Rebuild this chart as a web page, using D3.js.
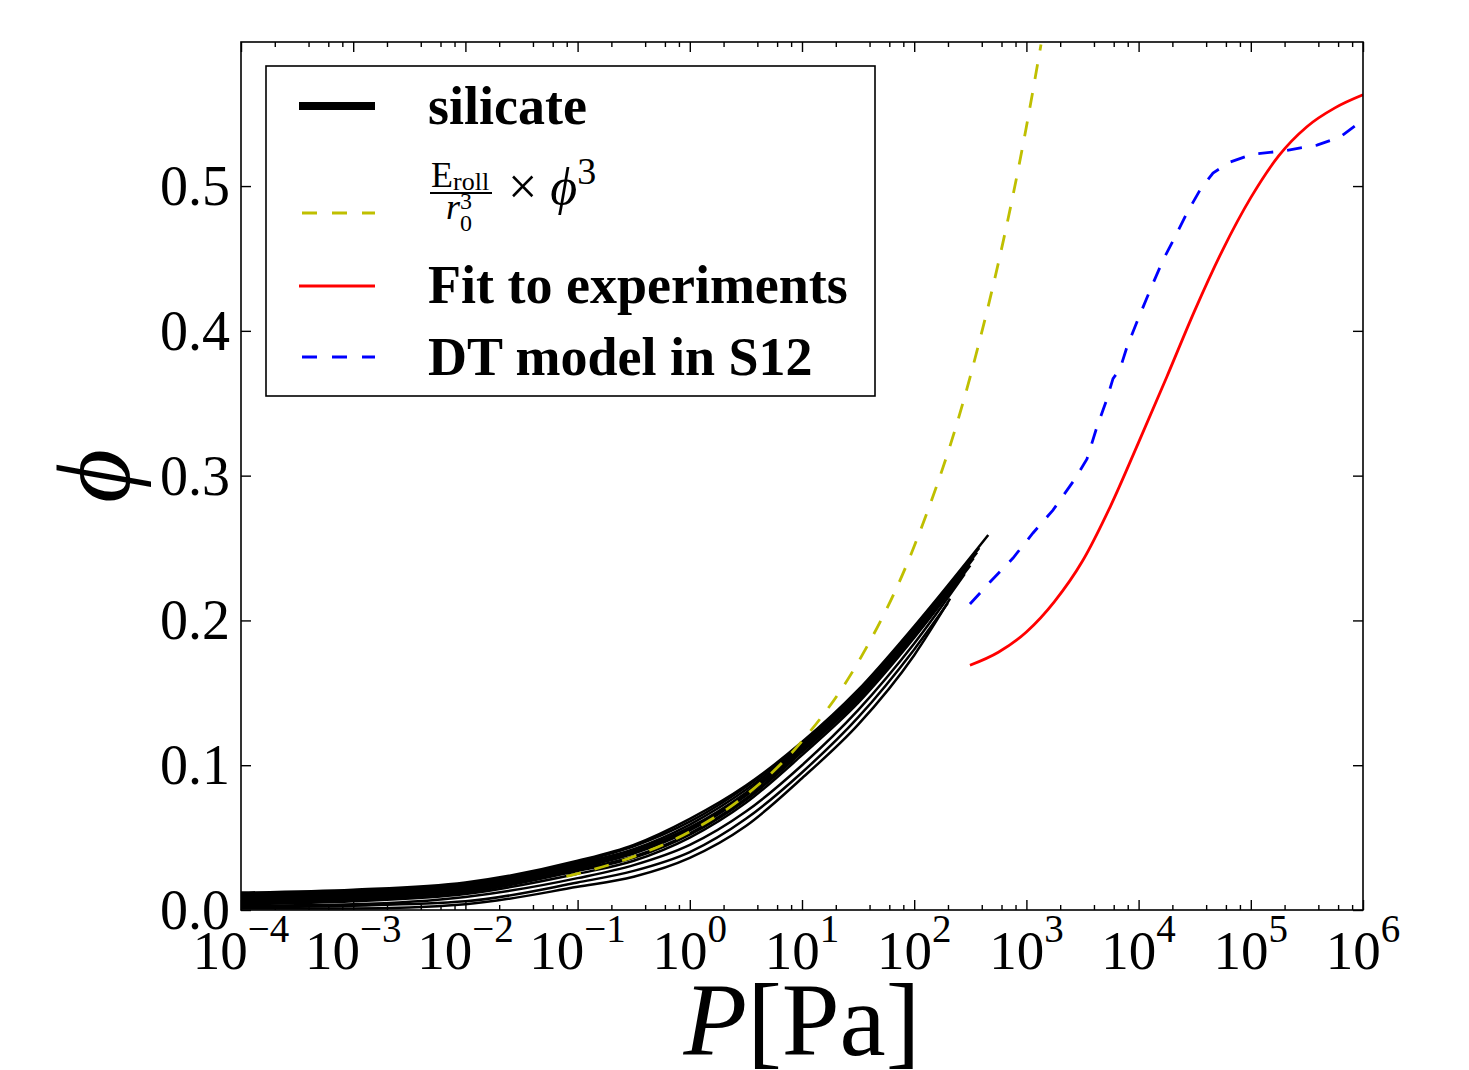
<!DOCTYPE html>
<html><head><meta charset="utf-8">
<script src="https://cdn.jsdelivr.net/npm/d3@7"></script>
<style>body{margin:0;background:#fff} svg{display:block}</style>
</head><body>
<svg id="c" width="1469" height="1070"></svg>
<script>
// ---------------- data ----------------
const xTickExps = [-4,-3,-2,-1,0,1,2,3,4,5,6];          // major ticks 10^e
const yTicks = [0.0,0.1,0.2,0.3,0.4,0.5];
const yTickLabels = ["0.0","0.1","0.2","0.3","0.4","0.5"];
const legendLabels = ["silicate","E_roll/r0^3 × φ^3","Fit to experiments","DT model in S12"];

// silicate runs: log10(P) nodes and φ for each run, plus each run's last point
const silicateLogP = [-4,-3,-2,-1,-0.5,0,0.5,1,1.5,2];
const silicatePhi = [
 [0.012,0.014,0.019,0.034,0.045,0.063,0.086,0.116,0.152,0.196],
 [0.011,0.013,0.018,0.033,0.044,0.061,0.085,0.115,0.151,0.195],
 [0.010,0.012,0.017,0.032,0.042,0.059,0.083,0.114,0.150,0.194],
 [0.009,0.011,0.016,0.031,0.041,0.057,0.081,0.113,0.149,0.193],
 [0.008,0.010,0.015,0.030,0.040,0.056,0.080,0.112,0.148,0.192],
 [0.007,0.009,0.014,0.029,0.039,0.055,0.079,0.111,0.147,0.191],
 [0.006,0.008,0.013,0.028,0.037,0.053,0.077,0.110,0.146,0.190],
 [0.005,0.007,0.012,0.027,0.036,0.052,0.076,0.109,0.145,0.189],
 [0.004,0.006,0.011,0.025,0.034,0.050,0.074,0.107,0.143,0.188],
 [0.003,0.004,0.009,0.022,0.031,0.045,0.068,0.100,0.138,0.184],
 [0.002,0.003,0.006,0.019,0.027,0.040,0.063,0.095,0.133,0.180],
 [0.001,0.001,0.004,0.016,0.023,0.036,0.058,0.091,0.128,0.176]
];
const silicateEnd = [[2.66,0.259],[2.58,0.250],[2.52,0.244],[2.56,0.247],[2.47,0.238],[2.53,0.243],
                     [2.42,0.230],[2.50,0.238],[2.38,0.226],[2.45,0.232],[2.30,0.212],[2.32,0.215]];

// E_roll / r0^3 × φ^3 curve
const rollLogP = [-1.1,-1.0,-0.5,0,0.5,1,1.5,2,2.5,3,3.13];
const rollPhi  = [0.0232,0.0251,0.0369,0.0541,0.0794,0.1166,0.1711,0.2512,0.3686,0.5410,0.5977];

// Fit to experiments
const fitLogP = [2.497,2.75,3.0,3.25,3.5,3.75,4.0,4.25,4.5,4.75,5.0,5.25,5.5,5.75,6.0];
const fitPhi  = [0.169,0.178,0.192,0.213,0.241,0.279,0.323,0.368,0.414,0.456,0.492,0.521,0.541,0.554,0.563];

// DT model in S12
const dtLogP = [2.497,2.676,2.881,3.059,3.237,3.433,3.540,3.620,3.709,3.772,3.834,3.897,3.995,4.102,4.218,4.324,4.431,4.547,4.663,4.815,5.02,5.287,5.59,5.795,6.0];
const dtPhi  = [0.2113,0.2265,0.2431,0.2604,0.2762,0.2977,0.3115,0.3315,0.351,0.367,0.3736,0.389,0.408,0.428,0.4489,0.4648,0.4814,0.4972,0.509,0.5166,0.5221,0.5242,0.5283,0.5338,0.5456];

// ---------------- drawing ----------------
const svg = d3.select('#c');
const L = 241, R = 1363, T = 42, B = 910;
const serif = "'Liberation Serif','Times New Roman',serif";
const x = d3.scaleLog().domain([1e-4,1e6]).range([L,R]);
const y = d3.scaleLinear().domain([0,0.5995]).range([B,T]);
const pw = e => Math.pow(10,e);

svg.append('rect').attr('width',1469).attr('height',1070).attr('fill','#fff');
svg.append('defs').append('clipPath').attr('id','clip')
  .append('rect').attr('x',L).attr('y',T).attr('width',R-L).attr('height',B-T);

const plot = svg.append('g').attr('clip-path','url(#clip)');
const lineS = d3.line().x(d=>x(pw(d[0]))).y(d=>y(d[1])).curve(d3.curveMonotoneX);
const lineL = d3.line().x(d=>x(pw(d[0]))).y(d=>y(d[1]));

// silicate runs
silicatePhi.forEach((run,k)=>{
  const pts = silicateLogP.map((v,i)=>[v,run[i]]).concat([silicateEnd[k]]);
  plot.append('path').datum(pts).attr('d',lineS).attr('fill','none')
    .attr('stroke','#000').attr('stroke-width',2.5);
});

// yellow
plot.append('path').datum(rollLogP.map((v,i)=>[v,rollPhi[i]]))
  .attr('d',lineS).attr('fill','none').attr('stroke','#bfbf00').attr('stroke-width',2.8)
  .attr('stroke-dasharray','15,14');

// red fit
plot.append('path').datum(fitLogP.map((v,i)=>[v,fitPhi[i]]))
  .attr('d',lineS).attr('fill','none').attr('stroke','#ff0000').attr('stroke-width',2.8);

// blue DT
plot.append('path').datum(dtLogP.map((v,i)=>[v,dtPhi[i]]))
  .attr('d',lineL).attr('fill','none').attr('stroke','#0000ff').attr('stroke-width',2.8)
  .attr('stroke-dasharray','15,14');

// ---------------- axes ----------------
const majors = xTickExps.map(pw);
const minors = [];
for (let e=-4;e<6;e++) for (const m of [2,4,6,8]) minors.push(m*pw(e));

function styleAxis(g){
  g.select('.domain').remove();
  g.selectAll('line').attr('stroke','#000').attr('stroke-width',1.4);
  g.selectAll('text').remove();
}
svg.append('g').attr('transform',`translate(0,${B})`)
  .call(d3.axisBottom(x).tickValues(majors).tickSize(-10).tickSizeOuter(0)).call(styleAxis);
svg.append('g').attr('transform',`translate(0,${B})`)
  .call(d3.axisBottom(x).tickValues(minors).tickSize(-5).tickSizeOuter(0)).call(styleAxis);
svg.append('g').attr('transform',`translate(0,${T})`)
  .call(d3.axisTop(x).tickValues(majors).tickSize(-10).tickSizeOuter(0)).call(styleAxis);
svg.append('g').attr('transform',`translate(0,${T})`)
  .call(d3.axisTop(x).tickValues(minors).tickSize(-5).tickSizeOuter(0)).call(styleAxis);
svg.append('g').attr('transform',`translate(${L},0)`)
  .call(d3.axisLeft(y).tickValues(yTicks).tickSize(-10).tickSizeOuter(0)).call(styleAxis);
svg.append('g').attr('transform',`translate(${R},0)`)
  .call(d3.axisRight(y).tickValues(yTicks).tickSize(-10).tickSizeOuter(0)).call(styleAxis);

// frame
svg.append('rect').attr('x',L).attr('y',T).attr('width',R-L).attr('height',B-T)
  .attr('fill','none').attr('stroke','#000').attr('stroke-width',1.6);

// y tick labels
yTicks.forEach((v,i)=>{
  svg.append('text').attr('x',L-11).attr('y',y(v)).attr('dy','0.34em')
    .attr('text-anchor','end').style('font-family',serif).style('font-size','56px')
    .text(yTickLabels[i]);
});
// x tick labels 10^e
xTickExps.forEach(e=>{
  const t = svg.append('text').attr('x',x(pw(e))).attr('y',969)
    .attr('text-anchor','middle').style('font-family',serif).style('font-size','55px');
  t.append('tspan').text('10');
  t.append('tspan').attr('dy',-27).style('font-size','39px')
    .text(e<0 ? '\u2212'+(-e) : String(e));
});

// axis labels
const xl = svg.append('text').attr('x',(L+R)/2).attr('y',1055).attr('text-anchor','middle')
  .style('font-family',serif).style('font-size','104px');
xl.append('tspan').style('font-style','italic').text('P');
xl.append('tspan').text('[Pa]');

svg.append('text').attr('transform','translate(129,476) rotate(-90)').attr('text-anchor','middle')
  .style('font-family',serif).style('font-style','italic').style('font-size','104px').text('\u03D5');

// ---------------- legend ----------------
const lg = svg.append('g');
lg.append('rect').attr('x',266).attr('y',66).attr('width',609).attr('height',330)
  .attr('fill','#fff').attr('stroke','#000').attr('stroke-width',1.6);
const hx1 = 299, hx2 = 375;
lg.append('line').attr('x1',hx1).attr('x2',hx2).attr('y1',106).attr('y2',106)
  .attr('stroke','#000').attr('stroke-width',8);
lg.append('line').attr('x1',hx1+3).attr('x2',hx2).attr('y1',213).attr('y2',213)
  .attr('stroke','#bfbf00').attr('stroke-width',3).attr('stroke-dasharray','15,15');
lg.append('line').attr('x1',hx1).attr('x2',hx2).attr('y1',286).attr('y2',286)
  .attr('stroke','#ff0000').attr('stroke-width',3);
lg.append('line').attr('x1',hx1+3).attr('x2',hx2).attr('y1',357).attr('y2',357)
  .attr('stroke','#0000ff').attr('stroke-width',3).attr('stroke-dasharray','15,15');

const bold = t => lg.append('text').style('font-family',serif).style('font-weight','bold')
  .style('font-size','54px').text(t);
bold(legendLabels[0]).attr('x',428).attr('y',124);
bold(legendLabels[2]).attr('x',428).attr('y',303);
bold(legendLabels[3]).attr('x',428).attr('y',375);

// formula: E_roll / r_0^3 × φ^3
const f = lg.append('g').style('font-family',serif);
const num = f.append('text').attr('x',431).attr('y',187).style('font-size','36px');
num.append('tspan').text('E');
num.append('tspan').attr('dy',3).style('font-size','26px').text('roll');
f.append('line').attr('x1',430).attr('x2',492).attr('y1',193).attr('y2',193)
  .attr('stroke','#000').attr('stroke-width',2.2);
const den = f.append('text').attr('x',446).attr('y',219).style('font-size','36px');
den.append('tspan').style('font-style','italic').text('r');
den.append('tspan').attr('dy',-10).style('font-size','24px').text('3');
den.append('tspan').attr('x',460).attr('dy',22).style('font-size','24px').text('0');
const tx = f.append('text').attr('x',508).attr('y',204).style('font-size','52px');
tx.append('tspan').text('\u00D7 ');
tx.append('tspan').style('font-style','italic').text('\u03D5');
tx.append('tspan').attr('dy',-20).style('font-size','38px').text('3');
</script>
</body></html>
